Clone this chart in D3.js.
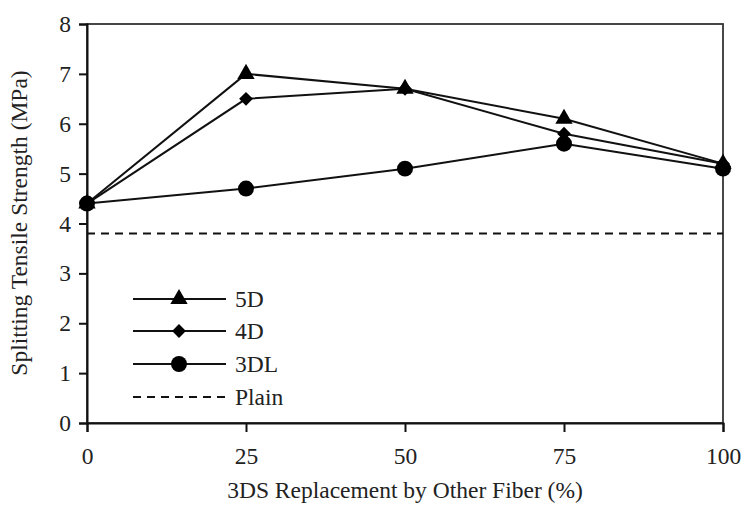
<!DOCTYPE html>
<html><head><meta charset="utf-8">
<script src="https://cdn.jsdelivr.net/npm/d3@7"></script>
<style>body{margin:0;background:#fff} svg text{font-family:"Liberation Serif","DejaVu Serif",serif;}</style>
</head><body>
<svg id="c" width="746" height="506"></svg>
<script>
const xValues = [0, 25, 50, 75, 100];
const s5D = [4.4, 7.0, 6.7, 6.1, 5.2];
const s4D = [4.4, 6.5, 6.7, 5.8, 5.2];
const s3DL = [4.4, 4.7, 5.1, 5.6, 5.1];
const plain = 3.8;
const xTicks = [0, 25, 50, 75, 100];
const yTicks = [0, 1, 2, 3, 4, 5, 6, 7, 8];
const legendLabels = ["5D", "4D", "3DL", "Plain"];

const svg = d3.select("#c");
const fs = 23.5;
const x = d3.scaleLinear().domain([0, 100]).range([87, 723]);
const y = d3.scaleLinear().domain([0, 8]).range([423, 24]);

// frame
svg.append("rect").attr("x", 87).attr("y", 24).attr("width", 636).attr("height", 399)
  .attr("fill", "none").attr("stroke", "#333").attr("stroke-width", 1.8);

const xa = svg.append("g").attr("transform", "translate(0,423)")
  .call(d3.axisBottom(x).tickValues(xTicks).tickSize(9).tickPadding(15));
const ya = svg.append("g").attr("transform", "translate(87,0)")
  .call(d3.axisLeft(y).tickValues(yTicks).tickSize(8).tickPadding(8));
[xa, ya].forEach(a => {
  a.attr("font-family", null);
  a.select(".domain").attr("stroke", "#111").attr("stroke-width", 2);
  a.selectAll(".tick line").attr("stroke", "#111").attr("stroke-width", 2);
  a.selectAll("text").attr("font-size", fs).attr("fill", "#222");
});

// plain dashed
svg.append("line").attr("x1", x(0)).attr("x2", x(100)).attr("y1", y(plain)).attr("y2", y(plain))
  .attr("stroke", "#111").attr("stroke-width", 2).attr("stroke-dasharray", "8,6");

const line = d3.line().x((d, i) => x(xValues[i])).y(d => y(d));
const series = [
  {v: s5D, sym: d3.symbolTriangle, size: 130, rot: 0},
  {v: s4D, sym: d3.symbolSquare, size: 95, rot: 45},
  {v: s3DL, sym: d3.symbolCircle, size: 200, rot: 0}
];
series.forEach(s => {
  svg.append("path").datum(s.v).attr("d", line).attr("fill", "none")
    .attr("stroke", "#111").attr("stroke-width", 2);
});
series.slice().reverse().forEach(s => {
  svg.selectAll(null).data(s.v).enter().append("path")
    .attr("transform", (d, i) => `translate(${x(xValues[i])},${y(d)}) rotate(${s.rot})`)
    .attr("d", d3.symbol().type(s.sym).size(s.size)).attr("fill", "#000");
});

// legend
const ly = [299, 331, 364, 397];
legendLabels.forEach((lab, i) => {
  const g = svg.append("g");
  g.append("line").attr("x1", 133).attr("x2", 226).attr("y1", ly[i]).attr("y2", ly[i])
    .attr("stroke", "#111").attr("stroke-width", 2)
    .attr("stroke-dasharray", i === 3 ? "8,6" : null);
  if (i < 3) {
    g.append("path").attr("transform", `translate(179,${ly[i]}) rotate(${series[i].rot})`)
      .attr("d", d3.symbol().type(series[i].sym).size(series[i].size)).attr("fill", "#000");
  }
  g.append("text").attr("x", 235).attr("y", ly[i] + 8).text(lab)
    .attr("font-size", fs).attr("fill", "#222");
});

// axis titles
svg.append("text").attr("x", 405).attr("y", 498).attr("text-anchor", "middle")
  .attr("font-size", fs).attr("fill", "#222")
  .text("3DS Replacement by Other Fiber (%)");
svg.append("text").attr("transform", "translate(27,223) rotate(-90)").attr("text-anchor", "middle")
  .attr("font-size", fs).attr("fill", "#222")
  .text("Splitting Tensile Strength (MPa)");
</script>
</body></html>
